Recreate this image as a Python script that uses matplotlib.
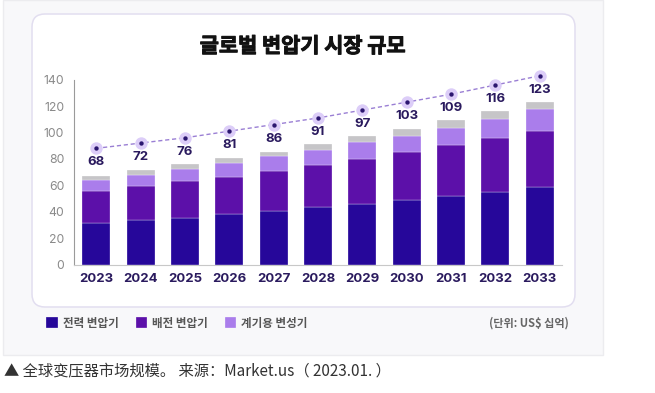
import matplotlib
matplotlib.use("Agg")
import matplotlib.pyplot as plt
import matplotlib.patheffects as pe
import numpy as np
from matplotlib.patches import FancyBboxPatch, Rectangle

# ---- data ----
years = ["2023", "2024", "2025", "2026", "2027", "2028", "2029", "2030", "2031", "2032", "2033"]
power = [31.7, 33.5, 35.5, 38.0, 40.5, 43.3, 45.6, 48.9, 51.9, 54.7, 58.5]
distribution = [24.2, 25.7, 27.5, 28.5, 30.3, 32.1, 34.1, 36.3, 38.4, 41.1, 42.9]
instrument = [8.3, 8.6, 9.3, 10.4, 11.2, 11.6, 13.3, 12.4, 13.3, 14.4, 16.2]
other = [3.1, 3.8, 3.8, 3.8, 3.5, 4.5, 4.6, 5.1, 5.9, 6.1, 5.7]
totals = [68, 72, 76, 81, 86, 91, 97, 103, 109, 116, 123]
series_labels = ["전력 변압기", "배전 변압기", "계기용 변성기"]
title = "글로벌 변압기 시장 규모"
unit_text = "(단위: US$ 십억)"
caption = "▲ 全球变压器市场规模。 来源：Market.us（ 2023.01. ）"

KR = ["Noto Sans CJK KR", "DejaVu Sans"]
CN = ["Noto Sans CJK SC", "DejaVu Sans"]
NUM = ["Inter", "Noto Sans CJK KR", "DejaVu Sans"]

W, H = 655, 393
fig = plt.figure(figsize=(W / 100, H / 100), dpi=100)
fig.patch.set_facecolor("white")

# background overlay axes in pixel coordinates
bg = fig.add_axes([0, 0, 1, 1], zorder=0)
bg.set_xlim(0, W)
bg.set_ylim(H, 0)
bg.axis("off")
bg.add_patch(Rectangle((3, 0), 600, 355, facecolor="#f8f8fa", edgecolor="#ececef", lw=1))
bg.add_patch(FancyBboxPatch((32, 14), 543, 293, boxstyle="round,pad=0,rounding_size=13",
                            facecolor="white", edgecolor="#e2def0", lw=1.1))
bg.text(302.5, 46, title, ha="center", va="center", fontsize=15, fontweight="bold",
        color="#111111", family=KR,
        path_effects=[pe.withStroke(linewidth=0.7, foreground="#111111")])
bg.text(569, 323, unit_text, ha="right", va="center", fontsize=8, fontweight="bold",
        color="#666666", family=KR)
bg.text(4, 372, caption, ha="left", va="center", fontsize=11, color="#333333", family=CN)

# main chart axes
left, right, bottom_px, top_px = 74, 562, 264.5, 66.5
ax = fig.add_axes([left / W, (H - bottom_px) / H, (right - left) / W, (bottom_px - top_px) / H], zorder=2)
ax.patch.set_alpha(0)

x = np.arange(len(years))
c_power, c_dist, c_inst, c_other = "#26079a", "#5c10a9", "#aa7deb", "#c6c5c8"
bw = 0.63
p = np.array(power)
d = np.array(distribution)
i_ = np.array(instrument)
o = np.array(other)
b1 = ax.bar(x, p, bw, color=c_power, label=series_labels[0], edgecolor="white", linewidth=0.2)
b2 = ax.bar(x, d, bw, bottom=p, color=c_dist, label=series_labels[1], edgecolor="white", linewidth=0.2)
b3 = ax.bar(x, i_, bw, bottom=p + d, color=c_inst, label=series_labels[2], edgecolor="white", linewidth=0.2)
ax.bar(x, o, bw, bottom=p + d + i_, color=c_other, edgecolor="white", linewidth=0.2)

t = np.array(totals, dtype=float)
dot_offset = 20
ax.plot(x, t + dot_offset, ls=(0, (3, 2)), color="#9a7fd4", lw=1.0, zorder=3)
ax.scatter(x, t + dot_offset, s=80, color="#dccdf8", zorder=4, linewidths=0)
ax.scatter(x, t + dot_offset, s=10, color="#2b1670", zorder=5, linewidths=0)
for xi, ti in zip(x, totals):
    ax.text(xi, ti + 9.3, str(ti), ha="center", va="center", fontsize=9.5, fontweight="bold",
            color="#2a1a5e", family=NUM)

ax.set_xlim(-0.5, len(years) - 0.5)
ax.set_ylim(0, 150)
ax.set_yticks(range(0, 141, 20))
ax.set_yticklabels([str(v) for v in range(0, 141, 20)], family=NUM, fontsize=8.8, color="#8a8a8a")
ax.set_xticks(x)
ax.set_xticklabels(years, family=NUM, fontsize=9.5, fontweight="bold", color="#2a1a5e")
ax.tick_params(axis="both", length=0)
ax.tick_params(axis="y", pad=7)
ax.tick_params(axis="x", pad=6)
for s in ["top", "right"]:
    ax.spines[s].set_visible(False)
ax.spines["left"].set_color("#9a9a9a")
ax.spines["left"].set_linewidth(0.8)
ax.spines["left"].set_bounds(0, 140)
ax.spines["bottom"].set_color("#c8c8c8")
ax.spines["bottom"].set_linewidth(0.8)

leg = fig.legend(handles=[b1, b2, b3], labels=series_labels, loc="center left",
                 bbox_to_anchor=(36 / W, (H - 323) / H), ncol=3, frameon=False,
                 handlelength=1.0, handleheight=1.0, handletextpad=0.4, columnspacing=1.5,
                 prop={"family": KR, "size": 8.3, "weight": "bold"}, labelcolor="#555555")

fig.savefig("out.png", dpi=100)
